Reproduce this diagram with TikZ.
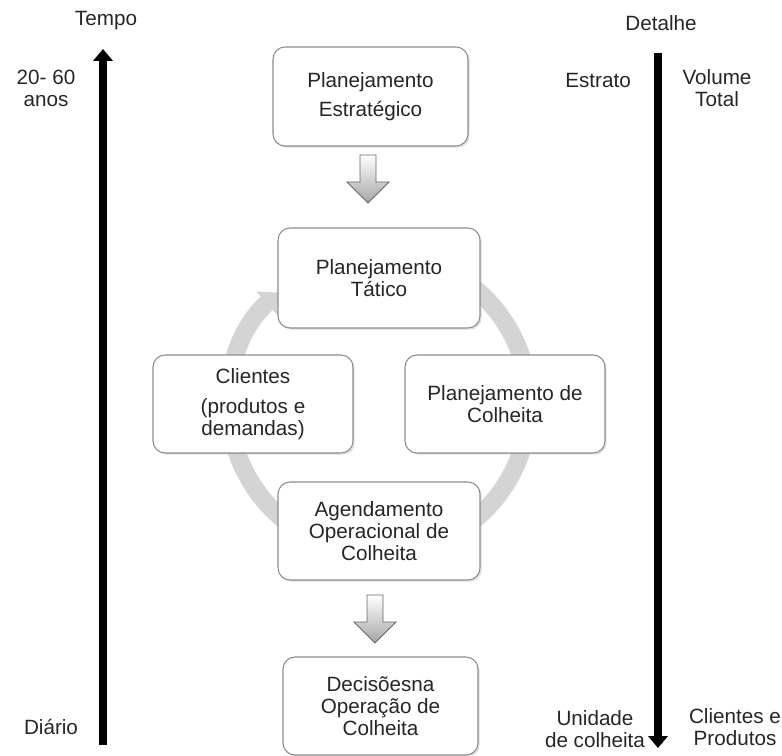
\documentclass[tikz,border=0pt]{standalone}
\usepackage{fontspec}
\setmainfont{Liberation Sans}
\usetikzlibrary{arrows.meta,shadows}
\definecolor{txt}{HTML}{262626}
\definecolor{ringgray}{HTML}{D4D4D4}
\definecolor{boxborder}{HTML}{8C8C8C}
\tikzset{
  every node/.style={font=\fontsize{15.5}{16.5}\selectfont, text=txt},
  lbl/.style={align=center, inner sep=0pt},
  card/.style={draw=boxborder, line width=0.8pt, fill=white, rounded corners=9pt,
    align=center, inner sep=2pt,
    drop shadow={shadow xshift=1.3pt, shadow yshift=-1.3pt, fill=black!25}},
  axisarrow/.style={line width=6pt, black, -{Triangle[width=14.5pt,length=9pt]}},
  ringarrow/.style={line width=13.5pt, draw=ringgray, -{Triangle[width=23pt,length=12pt]}},
  blockarr/.style={draw=black!60, line width=0.7pt, top color=white, bottom color=black!35},
  downarr/.pic={\path[blockarr] (-8,0) -- (8,0) -- (8,27) -- (21,27) -- (0,48) -- (-21,27) -- (-8,27) -- cycle;}
}
\begin{document}
\begin{tikzpicture}[x=0.75pt,y=-0.75pt]
\useasboundingbox (0,0) rectangle (782,756);

% side axes
\node[lbl] (tempo) at (106,21) {Tempo};
\node[lbl] (anos) at (46,88) {20- 60\\anos};
\node[lbl] (diario) at (51,727) {Diário};
\coordinate (tbot) at (103,745);
\coordinate (ttop) at (103,49);
\draw[axisarrow] (tbot) -- (ttop);

\node[lbl] (detalhe) at (661,23) {Detalhe};
\node[lbl] (estrato) at (598,80) {Estrato};
\node[lbl] (volume) at (717,88) {Volume\\Total};
\node[lbl] (unidade) at (595,729) {Unidade\\de colheita};
\node[lbl] (clientesprod) at (735,727) {Clientes e\\Produtos};
\coordinate (dtop) at (658,53);
\coordinate (dbot) at (658,748);
\draw[axisarrow] (dtop) -- (dbot);

% cycle ring
\coordinate (c) at (379,404);
\draw[ringarrow] (c) ++(-120:150) arc[start angle=-120, end angle=228, radius=150];

% boxes
\node[card, minimum width=146.25pt, minimum height=74.25pt] (estr) at (370.5,96.5)
  {Planejamento\\[5pt]Estratégico};
\node[card, minimum width=151.5pt, minimum height=75pt] (tat) at (379,278)
  {Planejamento\\Tático};
\node[card, minimum width=150pt, minimum height=73.5pt] (cli) at (253,404)
  {Clientes\\[6pt](produtos e\\demandas)};
\node[card, minimum width=150pt, minimum height=73.5pt] (col) at (505,404)
  {Planejamento de\\Colheita};
\node[card, minimum width=151.5pt, minimum height=73.5pt] (age) at (379,531)
  {Agendamento\\Operacional de\\Colheita};
\node[card, minimum width=146.25pt, minimum height=73.5pt] (dec) at (380.5,706)
  {Decisõesna\\Operação de\\Colheita};

% block arrows
\pic at (368,155) {downarr};
\pic at (375,595) {downarr};
\end{tikzpicture}
\end{document}
